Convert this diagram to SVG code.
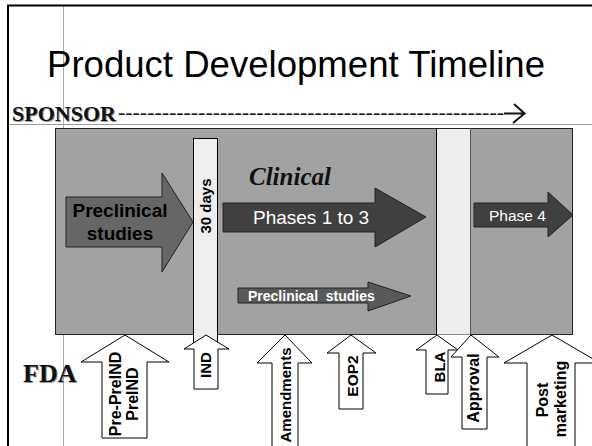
<svg xmlns="http://www.w3.org/2000/svg" width="592" height="446" viewBox="0 0 592 446">
<style>
.ol{stroke:#000;stroke-width:1}
.up{fill:#fff;stroke:#000;stroke-width:1}
.lbl{font-family:"Liberation Sans",Arial,sans-serif;font-weight:bold;fill:#000;text-anchor:middle}
.wt{font-family:"Liberation Sans",Arial,sans-serif;fill:#fff}
.ser{font-family:"Liberation Serif","Times New Roman",serif}
</style>
<rect width="592" height="446" fill="#fff"/>
<g id="frame">
<line x1="63.5" y1="6" x2="63.5" y2="446" stroke="#aaa" stroke-width="1"/>
<line x1="9" y1="124.5" x2="592" y2="124.5" stroke="#999" stroke-width="1"/>
<line x1="7" y1="5.5" x2="592" y2="5.5" stroke="#000" stroke-width="2"/>
<line x1="8" y1="5" x2="8" y2="446" stroke="#000" stroke-width="2"/>
</g>
<g id="title">
<text x="47" y="77" font-family="'Liberation Sans',Arial,sans-serif" font-size="36.5" fill="#000" textLength="498" lengthAdjust="spacingAndGlyphs">Product Development Timeline</text>
</g>
<g id="sponsor">
<text class="ser" x="13" y="122" font-size="22" font-weight="bold" fill="#999">SPONSOR</text>
<text class="ser" x="12" y="121" font-size="22" font-weight="bold" fill="#111">SPONSOR</text>
</g>
<g id="connectors">
<text class="ser" x="118" y="119" font-size="22" fill="#111" textLength="386" lengthAdjust="spacing">-----------------------------------------------------</text>
<path d="M504,113.5 H524 M514,104 L524.5,113.5 L513,123" fill="none" stroke="#111" stroke-width="2"/>
</g>
<g id="fda">
<text class="ser" x="24" y="383" font-size="26" font-weight="bold" fill="#999">FDA</text>
<text class="ser" x="23" y="382" font-size="26" font-weight="bold" fill="#111">FDA</text>
</g>
<g id="main">
<rect x="55.5" y="128.5" width="517" height="206" fill="#a2a2a2" stroke="#222" stroke-width="1"/>
</g>
<g id="bla-bar">
<rect x="436" y="129" width="34" height="205.5" fill="#ededed"/>
<line x1="436.5" y1="128" x2="436.5" y2="335" stroke="#000"/>
<line x1="470.5" y1="128" x2="470.5" y2="335" stroke="#555"/>
</g>
<g id="days-bar">
<rect x="193.5" y="138.5" width="24" height="210" fill="#eeeeee" stroke="#000" stroke-width="1"/>
<text class="lbl" transform="translate(211,206) rotate(-90)" font-size="15">30 days</text>
</g>
<g id="preclinical">
<polygon points="66,197 162,197 162,173 193,222 162,272 162,247 66,247" fill="#666" stroke="#222"/>
<text class="lbl" x="120" y="217" font-size="19">Preclinical</text>
<text class="lbl" x="120" y="240" font-size="19">studies</text>
</g>
<g id="clinical">
<text x="249" y="185" font-family="'Liberation Serif','Times New Roman',serif" font-style="italic" font-weight="bold" font-size="25" fill="#111">Clinical</text>
</g>
<g id="phases">
<polygon points="223,203 375,203 375,188 426,217 375,247 375,232 223,232" fill="#404040" stroke="#222"/>
<text class="wt" x="253" y="224" font-size="19">Phases 1 to 3</text>
</g>
<g id="phase4">
<polygon points="474,203 548,203 548,192 573,215 548,237 548,227 474,227" fill="#404040" stroke="#222"/>
<text class="wt" x="489" y="221" font-size="15.5">Phase 4</text>
</g>
<g id="preclinical2">
<polygon points="238,288 368,288 368,282 411,296 368,311 368,303 238,303" fill="#595959" stroke="#222"/>
<text class="wt" x="248" y="301" font-size="14" font-weight="bold" xml:space="preserve">Preclinical  studies</text>
</g>
<g id="preind">
<polygon class="up" points="125,335 169,362 147,362 147,438 102,438 102,362 81,362"/>
<text class="lbl" transform="translate(121,394) rotate(-90)" font-size="16">Pre-PreIND</text>
<text class="lbl" transform="translate(138,394) rotate(-90)" font-size="16">PreIND</text>
</g>
<g id="ind">
<polygon class="up" points="206,335 229,349 218,349 218,389 194,389 194,349 184,349"/>
<text class="lbl" transform="translate(211,365) rotate(-90)" font-size="15">IND</text>
</g>
<g id="amendments">
<polygon class="up" points="285,335 312,363 298,363 298,450 272,450 272,363 257,363"/>
<text class="lbl" transform="translate(291,395) rotate(-90)" font-size="15">Amendments</text>
</g>
<g id="eop2">
<polygon class="up" points="351,335 376,353 363,353 363,409 339,409 339,353 327,353"/>
<text class="lbl" transform="translate(358,376) rotate(-90)" font-size="15.5">EOP2</text>
</g>
<g id="bla">
<polygon class="up" points="437,335 458,350 448,350 448,394 426,394 426,350 416,350"/>
<text class="lbl" transform="translate(445,367) rotate(-90)" font-size="15">BLA</text>
</g>
<g id="approval">
<polygon class="up" points="471,335 499,357 487,357 487,429 462,429 462,357 451,357"/>
<text class="lbl" transform="translate(479,388) rotate(-90)" font-size="16">Approval</text>
</g>
<g id="post">
<polygon class="up" points="552,335 600,363 575,363 575,450 527,450 527,363 504,363"/>
<text class="lbl" transform="translate(548,400) rotate(-90)" font-size="16">Post</text>
<text class="lbl" transform="translate(566,399) rotate(-90)" font-size="16">marketing</text>
</g>
</svg>
